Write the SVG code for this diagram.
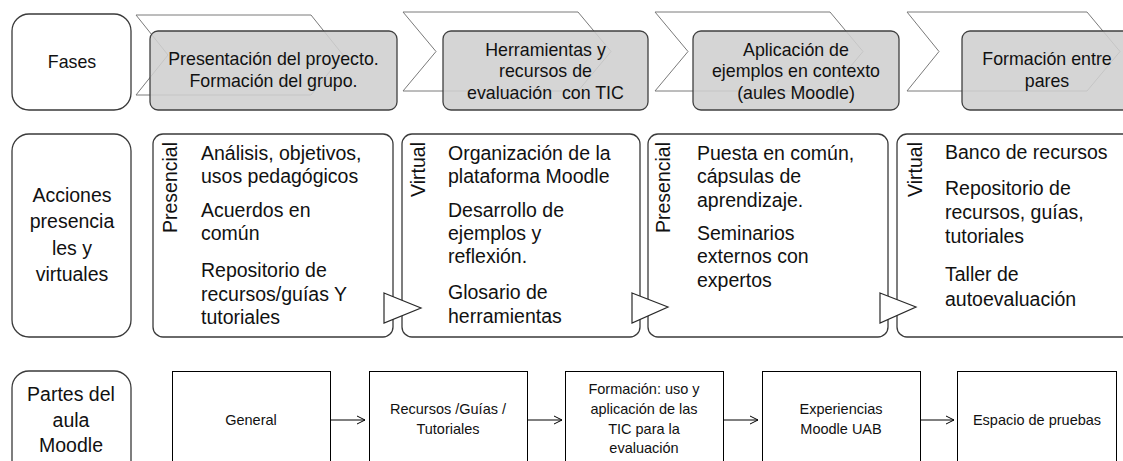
<svg xmlns="http://www.w3.org/2000/svg" width="1123" height="461" viewBox="0 0 1123 461">
<defs>
<style>
text{font-family:"Liberation Sans",Arial,sans-serif;fill:#111;}
.lab{fill:#fff;stroke:#3a3a3a;stroke-width:1.3;}
.chev{fill:#fff;stroke:#7a7a7a;stroke-width:1;}
.phase{fill:#cfcfcf;fill-opacity:0.88;stroke:#404040;stroke-width:1.3;}
.act{fill:#fff;stroke:#3a3a3a;stroke-width:1.3;}
.tri{fill:#fff;stroke:#2a2a2a;stroke-width:1.2;}
.part{fill:#fff;stroke:#000;stroke-width:1;}
.t18{font-size:17.8px;text-anchor:middle;}
.t19{font-size:19.5px;text-anchor:middle;}
.b{font-size:19.5px;}
.v{font-size:19.5px;text-anchor:end;}
.s{font-size:14.5px;text-anchor:middle;}
.conn{stroke:#000;stroke-width:1;fill:none;marker-end:url(#arr);}
</style>
<marker id="arr" viewBox="0 0 10 10" refX="9" refY="5" markerWidth="10" markerHeight="10" markerUnits="userSpaceOnUse" orient="auto">
<path d="M1,1 L9,5 L1,9" fill="none" stroke="#000" stroke-width="1"/>
</marker>
</defs>
<rect width="1123" height="461" fill="#fff"/>

<g id="fases">
<rect class="lab" x="12" y="14" width="119" height="96" rx="17"/>
<text class="t18" x="72" y="68">Fases</text>
</g>

<g id="fase1">
<polygon class="chev" points="136,15 311,15 343,55 311,95 136,95 168,55"/>
<rect class="phase" x="150" y="31" width="247" height="79" rx="8"/>
<text class="t18" x="273.5" y="65">Presentación del proyecto.</text>
<text class="t18" x="273.5" y="87">Formación del grupo.</text>
</g>

<g id="fase2">
<polygon class="chev" points="403,12 578,12 611,51.5 578,91 403,91 436,51.5"/>
<rect class="phase" x="443" y="31" width="205" height="79" rx="8"/>
<text class="t18" x="545.5" y="56">Herramientas y</text>
<text class="t18" x="545.5" y="77">recursos de</text>
<text class="t18" x="545.5" y="99" xml:space="preserve">evaluación  con TIC</text>
</g>

<g id="fase3">
<polygon class="chev" points="655,12 830,12 863,51.5 830,91 655,91 688,51.5"/>
<rect class="phase" x="693" y="31" width="206" height="79" rx="8"/>
<text class="t18" x="796" y="56">Aplicación de</text>
<text class="t18" x="796" y="77">ejemplos en contexto</text>
<text class="t18" x="796" y="99">(aules Moodle)</text>
</g>

<g id="fase4">
<polygon class="chev" points="907,12 1087,12 1120,51.5 1087,91 907,91 939,51.5"/>
<rect class="phase" x="962" y="31" width="175" height="79" rx="8"/>
<text class="t18" x="1047" y="65">Formación entre</text>
<text class="t18" x="1047" y="87">pares</text>
</g>

<g id="acciones">
<rect class="lab" x="12" y="134" width="119" height="203" rx="17"/>
<text class="t19" x="72" y="202">Acciones</text>
<text class="t19" x="72" y="228">presencia</text>
<text class="t19" x="72" y="255">les y</text>
<text class="t19" x="72" y="281">virtuales</text>
</g>

<g id="accionA">
<rect class="act" x="153" y="134" width="240" height="203" rx="10"/>
<text class="v" transform="translate(177,142) rotate(-90)">Presencial</text>
<text class="b" x="201" y="160">Análisis, objetivos,</text>
<text class="b" x="201" y="183">usos pedagógicos</text>
<text class="b" x="201" y="217">Acuerdos en</text>
<text class="b" x="201" y="240">común</text>
<text class="b" x="201" y="277">Repositorio de</text>
<text class="b" x="201" y="301">recursos/guías Y</text>
<text class="b" x="201" y="324">tutoriales</text>
</g>

<g id="accionB">
<rect class="act" x="402" y="134" width="238" height="203" rx="10"/>
<text class="v" transform="translate(425,142) rotate(-90)">Virtual</text>
<text class="b" x="448" y="160">Organización de la</text>
<text class="b" x="448" y="183">plataforma Moodle</text>
<text class="b" x="448" y="217">Desarrollo de</text>
<text class="b" x="448" y="240">ejemplos y</text>
<text class="b" x="448" y="263">reflexión.</text>
<text class="b" x="448" y="299">Glosario de</text>
<text class="b" x="448" y="323">herramientas</text>
</g>

<g id="accionC">
<rect class="act" x="648" y="134" width="240" height="203" rx="10"/>
<text class="v" transform="translate(670,142) rotate(-90)">Presencial</text>
<text class="b" x="697" y="160">Puesta en común,</text>
<text class="b" x="697" y="183">cápsulas de</text>
<text class="b" x="697" y="207">aprendizaje.</text>
<text class="b" x="697" y="240">Seminarios</text>
<text class="b" x="697" y="263">externos con</text>
<text class="b" x="697" y="287">expertos</text>
</g>

<g id="accionD">
<rect class="act" x="897" y="134" width="240" height="203" rx="10"/>
<text class="v" transform="translate(922,142) rotate(-90)">Virtual</text>
<text class="b" x="945" y="159">Banco de recursos</text>
<text class="b" x="945" y="195">Repositorio de</text>
<text class="b" x="945" y="219">recursos, guías,</text>
<text class="b" x="945" y="243">tutoriales</text>
<text class="b" x="945" y="281">Taller de</text>
<text class="b" x="945" y="306">autoevaluación</text>
</g>

<g id="partes">
<rect class="lab" x="12" y="371" width="119" height="110" rx="17"/>
<text class="t19" x="71" y="401">Partes del</text>
<text class="t19" x="71" y="427">aula</text>
<text class="t19" x="71" y="452">Moodle</text>
</g>

<g id="general">
<rect class="part" x="172.5" y="371.5" width="158" height="100"/>
<text class="s" x="251" y="425">General</text>
</g>
<g id="recursos">
<rect class="part" x="369.5" y="371.5" width="158" height="100"/>
<text class="s" x="448" y="414">Recursos /Guías /</text>
<text class="s" x="448" y="434">Tutoriales</text>
</g>
<g id="formacion">
<rect class="part" x="565.5" y="371.5" width="158" height="100"/>
<text class="s" x="644" y="394">Formación: uso y</text>
<text class="s" x="644" y="414">aplicación de las</text>
<text class="s" x="644" y="434">TIC para la</text>
<text class="s" x="644" y="453">evaluación</text>
</g>
<g id="experiencias">
<rect class="part" x="762.5" y="371.5" width="158" height="100"/>
<text class="s" x="841" y="414">Experiencias</text>
<text class="s" x="841" y="434">Moodle UAB</text>
</g>
<g id="espacio">
<rect class="part" x="957.5" y="371.5" width="159" height="100"/>
<text class="s" x="1037" y="425">Espacio de pruebas</text>
</g>

<g id="connectors">
<polygon class="tri" points="384,293 421,308 384,323"/>
<polygon class="tri" points="632,293 668,307 632,323"/>
<polygon class="tri" points="880,293 916,307 880,323"/>
<line class="conn" x1="331" y1="420" x2="365" y2="420"/>
<line class="conn" x1="528" y1="420" x2="562" y2="420"/>
<line class="conn" x1="724" y1="420" x2="758" y2="420"/>
<line class="conn" x1="921" y1="420" x2="954" y2="420"/>
</g>
</svg>
